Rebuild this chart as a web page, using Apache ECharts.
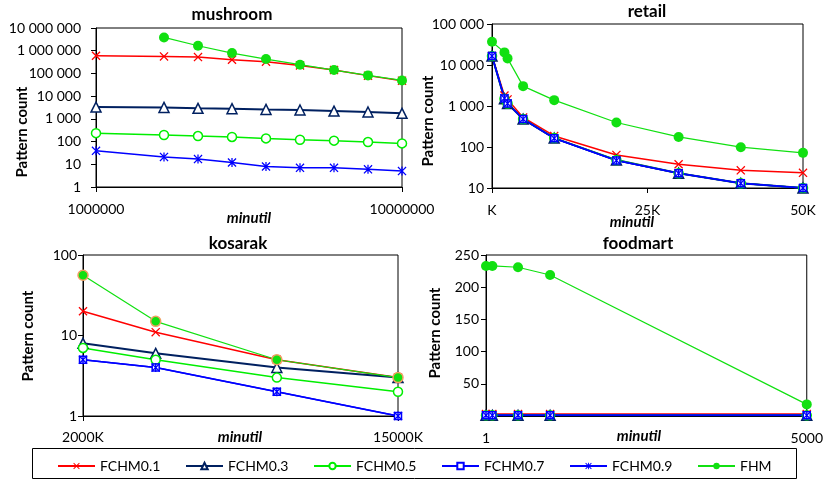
<!DOCTYPE html>
<html><head><meta charset="utf-8">
<script src="https://cdn.jsdelivr.net/npm/echarts@6/dist/echarts.min.js"></script>
<style>html,body{margin:0;padding:0;background:#fff}#c{width:826px;height:480px}</style>
</head><body><div id="c"></div>
<script>
const seriesNames = ['FCHM0.1','FCHM0.3','FCHM0.5','FCHM0.7','FCHM0.9','FHM'];

// mushroom
const mushroomX = [1000000, 3000000, 4000000, 5000000, 6000000, 7000000, 8000000, 9000000, 10000000];
const mushroomF01 = [600000, 560000, 525000, 400000, 330000, 225000, 140000, 80000, 48000];
const mushroomF03 = [3300, 3200, 2900, 2800, 2600, 2450, 2200, 2000, 1750];
const mushroomF05 = [235, 195, 175, 160, 138, 120, 110, 95, 83];
const mushroomF07 = [null, null, null, null, null, null, null, null, null];
const mushroomF09 = [39, 21, 17, 12, 8, 7, 7, 6, 5];
const mushroomFHM = [null, 3850000, 1660000, 790000, 430000, 242000, 141000, 82000, 49000];
const mushroomXTicks = ['1000000', '10000000'];

// retail
const retailX = [0, 2000, 2500, 5000, 10000, 20000, 30000, 40000, 50000];
const retailF01 = [16500, 1800, 1450, 525, 186, 64, 38, 27, 23.5];
const retailF03 = [16500, 1500, 1150, 480, 165, 48, 23, 13, 10];
const retailF05 = [16500, 1500, 1150, 480, 165, 48, 23, 13, 10];
const retailF07 = [16500, 1520, 1150, 480, 164, 47, 23, 13, 10];
const retailF09 = [16500, 1550, 1150, 480, 163, 47, 23, 13, 10];
const retailFHM = [37000, 20300, 14500, 3050, 1390, 395, 176, 99, 72];
const retailXTicks = ['K', '25K', '50K'];

// kosarak (minutil in K)
const kosarakX = [2000, 5000, 10000, 15000];
const kosarakF01 = [20, 11, 5, 3];
const kosarakF03 = [8, 6, 4, 3];
const kosarakF05 = [7, 5, 3, 2];
const kosarakF07 = [5, 4, 2, 1];
const kosarakF09 = [5, 4, 2, 1];
const kosarakFHM = [56, 15, 5, 3];
const kosarakXTicks = ['2000K', '15000K'];

// foodmart
const foodmartX = [1, 100, 500, 1000, 5000];
const foodmartF01 = [3, 3, 3, 3, 3];
const foodmartF03 = [1, 1, 1, 1, 1];
const foodmartF05 = [1, 1, 1, 1, 1];
const foodmartF07 = [1, 1, 1, 1, 1];
const foodmartF09 = [1, 1, 1, 1, 1];
const foodmartFHM = [233, 233, 231, 219, 18];
const foodmartXTicks = ['1', '5000'];

const FONT = 'Lato';
const X_PATH = 'path://M1,0 L5,4 L9,0 L10,1 L6,5 L10,9 L9,10 L5,6 L1,10 L0,9 L4,5 L0,1 Z';
const STAR_PATH = 'path://M1,0 L5,4 L9,0 L10,1 L6,5 L10,9 L9,10 L5,6 L1,10 L0,9 L4,5 L0,1 Z M4.3,0 L5.7,0 L5.7,10 L4.3,10 Z';

const styles = {
  'FCHM0.1': {color:'#ff0000', symbol:X_PATH, size:9, hollow:false, lw:1.5},
  'FCHM0.3': {color:'#002060', symbol:'triangle', size:10, hollow:true, lw:2},
  'FCHM0.5': {color:'#00ee00', symbol:'circle', size:9, hollow:true, lw:1.5},
  'FCHM0.7': {color:'#0000ff', symbol:'rect', size:7, hollow:true, lw:1.5},
  'FCHM0.9': {color:'#0000ff', symbol:STAR_PATH, size:9, hollow:false, lw:1.5},
  'FHM': {color:'#11e011', symbol:'circle', size:10, hollow:false, lw:1.2}
};

function makeSeries(gi, xs, name, ys, extraItem) {
  const s = styles[name];
  const data = [];
  xs.forEach((x, i) => { if (ys[i] != null) data.push([x, ys[i]]); });
  const itemStyle = s.hollow
    ? {color:'#ffffff', borderColor:s.color, borderWidth:1.5}
    : {color:s.color};
  if (extraItem) Object.assign(itemStyle, extraItem);
  return {
    type:'line', name, xAxisIndex:gi, yAxisIndex:gi, data,
    symbol:s.symbol, symbolSize:s.size, showAllSymbol:true,
    lineStyle:{color:s.color, width:s.lw}, itemStyle,
    emphasis:{disabled:true}
  };
}

const grids = [
  {left:96, top:28, width:306, height:159},
  {left:492, top:24, width:311, height:164},
  {left:83, top:255, width:315, height:161},
  {left:486, top:255, width:322, height:161}
].map(g => Object.assign(g, {show:true, borderColor:'#000', borderWidth:1, backgroundColor:'transparent'}));

const lbl = {fontFamily:FONT, fontSize:14, color:'#000'};
const axLine = {show:true, lineStyle:{color:'#000', width:1}};
const axTick = {show:true, length:5, lineStyle:{color:'#000'}};
const spaced = v => String(Math.round(v)).replace(/\B(?=(\d{3})+(?!\d))/g, ' ');

const xAxes = [
  {gridIndex:0, type:'value', min:1000000, max:10000000, interval:9000000,
   axisLabel:Object.assign({margin:15, formatter:(v)=> v===1000000?mushroomXTicks[0]:mushroomXTicks[1]}, lbl)},
  {gridIndex:1, type:'value', min:0, max:50000, interval:25000,
   axisLabel:Object.assign({margin:15, formatter:(v)=> retailXTicks[Math.round(v/25000)]}, lbl)},
  {gridIndex:2, type:'value', min:2000, max:15000, interval:13000,
   axisLabel:Object.assign({margin:14, formatter:(v)=> v===2000?kosarakXTicks[0]:kosarakXTicks[1]}, lbl)},
  {gridIndex:3, type:'value', min:1, max:5000, interval:4999,
   axisLabel:Object.assign({margin:15, formatter:(v)=> v===1?foodmartXTicks[0]:foodmartXTicks[1]}, lbl)}
].map(a => Object.assign(a, {axisLine:axLine, axisTick:axTick, splitLine:{show:false}}));

const yAxes = [
  {gridIndex:0, type:'log', logBase:10, min:1, max:10000000, splitNumber:7,
   axisLabel:Object.assign({margin:15, formatter:spaced}, lbl)},
  {gridIndex:1, type:'log', logBase:10, min:10, max:100000, splitNumber:4,
   axisLabel:Object.assign({margin:8, formatter:spaced}, lbl)},
  {gridIndex:2, type:'log', logBase:10, min:1, max:100, splitNumber:2,
   axisLabel:Object.assign({margin:6, formatter:spaced}, lbl)},
  {gridIndex:3, type:'value', min:0, max:250, interval:50,
   axisLabel:Object.assign({margin:7, formatter:(v)=> v===0?'':String(v)}, lbl)}
].map(a => Object.assign(a, {axisLine:axLine, axisTick:axTick, splitLine:{show:false}, minorTick:{show:false}}));

const series = [];
[[0, mushroomX, [mushroomF01, mushroomF03, mushroomF05, mushroomF07, mushroomF09, mushroomFHM]],
 [1, retailX, [retailF01, retailF03, retailF05, retailF07, retailF09, retailFHM]],
 [2, kosarakX, [kosarakF01, kosarakF03, kosarakF05, kosarakF07, kosarakF09, kosarakFHM]],
 [3, foodmartX, [foodmartF01, foodmartF03, foodmartF05, foodmartF07, foodmartF09, foodmartFHM]]
].forEach(([gi, xs, arrs]) => {
  arrs.forEach((ys, k) => {
    const extra = (gi === 2 && seriesNames[k] === 'FHM') ? {borderColor:'#f0a060', borderWidth:1.5} : null;
    series.push(makeSeries(gi, xs, seriesNames[k], ys, extra));
  });
});

const titleStyle = {fontFamily:FONT, fontSize:17, fontWeight:'bold', color:'#000'};
const titles = [
  {text:'mushroom', left:232, top:6},
  {text:'retail', left:647, top:3},
  {text:'kosarak', left:238, top:235},
  {text:'foodmart', left:638, top:235}
].map(t => Object.assign(t, {textAlign:'center', padding:0, textStyle:titleStyle}));

const legendLefts = [57, 185, 313, 441, 569, 697];
const legends = seriesNames.map((n, i) => ({
  data:[n], left:legendLefts[i], top:459, itemWidth:37, itemHeight:8, padding:0,
  textStyle:{fontFamily:FONT, fontSize:14, color:'#000'}, selectedMode:false
}));

function vtext(x, y, t) {
  return {type:'text', x, y, rotation:Math.PI/2,
    style:{text:t, fontFamily:FONT, fontSize:15, fontWeight:'bold', fill:'#000', align:'center', verticalAlign:'middle'}};
}
function htext(x, y, t) {
  return {type:'text', x, y,
    style:{text:t, fontFamily:FONT, fontSize:15, fontWeight:'bold', fontStyle:'italic', fill:'#000', align:'center', verticalAlign:'middle'}};
}

const graphic = [
  vtext(22, 132, 'Pattern count'),
  vtext(428, 121, 'Pattern count'),
  vtext(28, 336, 'Pattern count'),
  vtext(435, 333, 'Pattern count'),
  htext(249, 218, 'minutil'),
  htext(632, 222, 'minutil'),
  htext(240, 437, 'minutil'),
  htext(639, 436, 'minutil'),
  {type:'rect', shape:{x:32.5, y:448.5, width:764, height:30}, style:{fill:'none', stroke:'#000', lineWidth:1}, silent:true}
];

const chart = echarts.init(document.getElementById('c'), null, {renderer:'canvas'});
chart.setOption({
  animation:false,
  backgroundColor:'#fff',
  title:titles,
  grid:grids,
  xAxis:xAxes,
  yAxis:yAxes,
  legend:legends,
  graphic,
  series
});
</script>
</body></html>
